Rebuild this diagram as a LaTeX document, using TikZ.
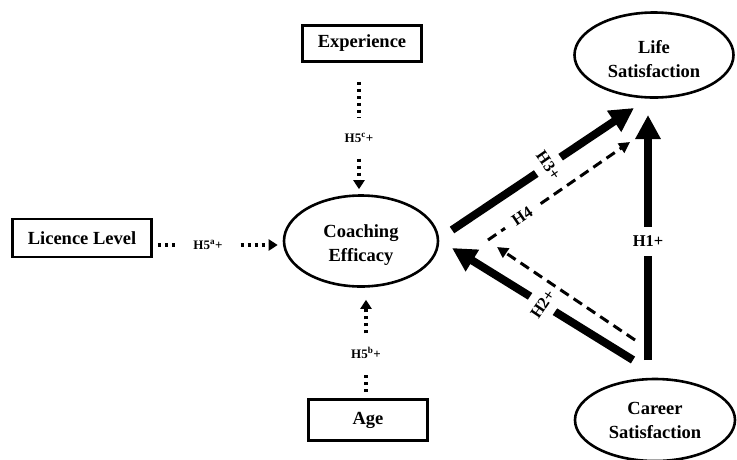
\documentclass[tikz,border=0pt]{standalone}
\usepackage{fontspec}
\setmainfont{Liberation Serif}
\usetikzlibrary{arrows.meta,shapes.geometric}
\tikzset{
  boxnode/.style={draw,line width=2.6pt,rectangle,inner sep=0pt,font=\bfseries\fontsize{18.5}{24}\selectfont},
  ellnode/.style={draw,line width=2.6pt,ellipse,inner sep=0pt,align=center,font=\bfseries\fontsize{18.5}{24}\selectfont},
  hlab/.style={inner sep=0pt,font=\bfseries\fontsize{13}{15}\selectfont},
  plab/.style={fill=white,font=\bfseries\fontsize{16.5}{18}\selectfont},
  dotline/.style={line width=3.5pt,dash pattern=on 3.5pt off 3.5pt},
  dotarrow/.style={dotline,-{Triangle[length=9pt,width=11pt]}},
  thickarrow/.style={line width=8pt,-{Triangle[length=24pt,width=24pt]}},
  dasharrow/.style={line width=3pt,dash pattern=on 10pt off 6pt,-{Triangle[length=11pt,width=11pt]}}
}
\begin{document}
\begin{tikzpicture}[x=1pt,y=-1pt]
\useasboundingbox (0,0) rectangle (737,459);
% nodes
\node[boxnode,minimum width=119pt,minimum height=36pt] (exp) at (362,43.5) {Experience};
\node[boxnode,minimum width=119pt,minimum height=41pt] (age) at (368,420) {Age};
\node[boxnode,minimum width=139pt,minimum height=38pt] (lic) at (82,238) {Licence Level};
\node[ellnode,minimum width=154pt,minimum height=91pt,text height=45pt] (coach) at (361,241) {Coaching\\Efficacy};
\node[ellnode,minimum width=159pt,minimum height=85pt,text height=45pt] (life) at (654,55) {Life\\Satisfaction};
\node[ellnode,minimum width=160pt,minimum height=82pt] (career) at (655,420) {Career\\Satisfaction};
% moderator labels
\node[hlab,inner ysep=16pt] (h5c) at (359,138) {H5\textsuperscript{c}+};
\node[hlab,inner ysep=14pt] (h5b) at (366,353) {H5\textsuperscript{b}+};
\node[hlab,inner xsep=18pt] (h5a) at (208,245) {H5\textsuperscript{a}+};
% dotted connectors
\draw[dotline,shorten <=19pt] (exp.south -| h5c) -- (h5c);
\draw[dotarrow,shorten >=5pt] (h5c) -- (h5c |- coach.north);
\draw[dotline,shorten <=6pt] (age.north -| h5b) -- (h5b);
\draw[dotarrow,shorten >=12pt] (h5b) -- (h5b |- coach.south);
\draw[dotline,shorten <=5pt] (lic.east |- h5a) -- (h5a);
\draw[dotarrow,shorten >=5pt] (h5a) -- (h5a -| coach.west);
% path coordinates
\coordinate (h3a) at (452,230);
\coordinate (h3b) at (634,108);
\coordinate (h1a) at (648,360);
\coordinate (h1b) at (648,115);
\coordinate (h2a) at (633,360);
\coordinate (h2b) at (452,248);
\coordinate (h4a) at (488,240);
\coordinate (h4b) at (630,142);
\coordinate (dca) at (635,340);
\coordinate (dcb) at (497,247);
% thick paths
\draw[thickarrow] (h3a) -- node[plab,pos=0.53,rotate=-55,inner xsep=1pt,inner ysep=9pt] {H3+} (h3b);
\draw[thickarrow] (h1a) -- node[plab,pos=0.485,inner xsep=1pt,inner ysep=9pt] {H1+} (h1b);
\draw[thickarrow] (h2a) -- node[plab,pos=0.5,rotate=56,inner xsep=1pt,inner ysep=9pt] {H2+} (h2b);
% dashed paths
\draw[dasharrow] (h4a) -- node[plab,pos=0.24,rotate=34,inner xsep=10pt,inner ysep=1pt] {H4} (h4b);
\draw[dasharrow] (dca) -- (dcb);
\end{tikzpicture}
\end{document}
